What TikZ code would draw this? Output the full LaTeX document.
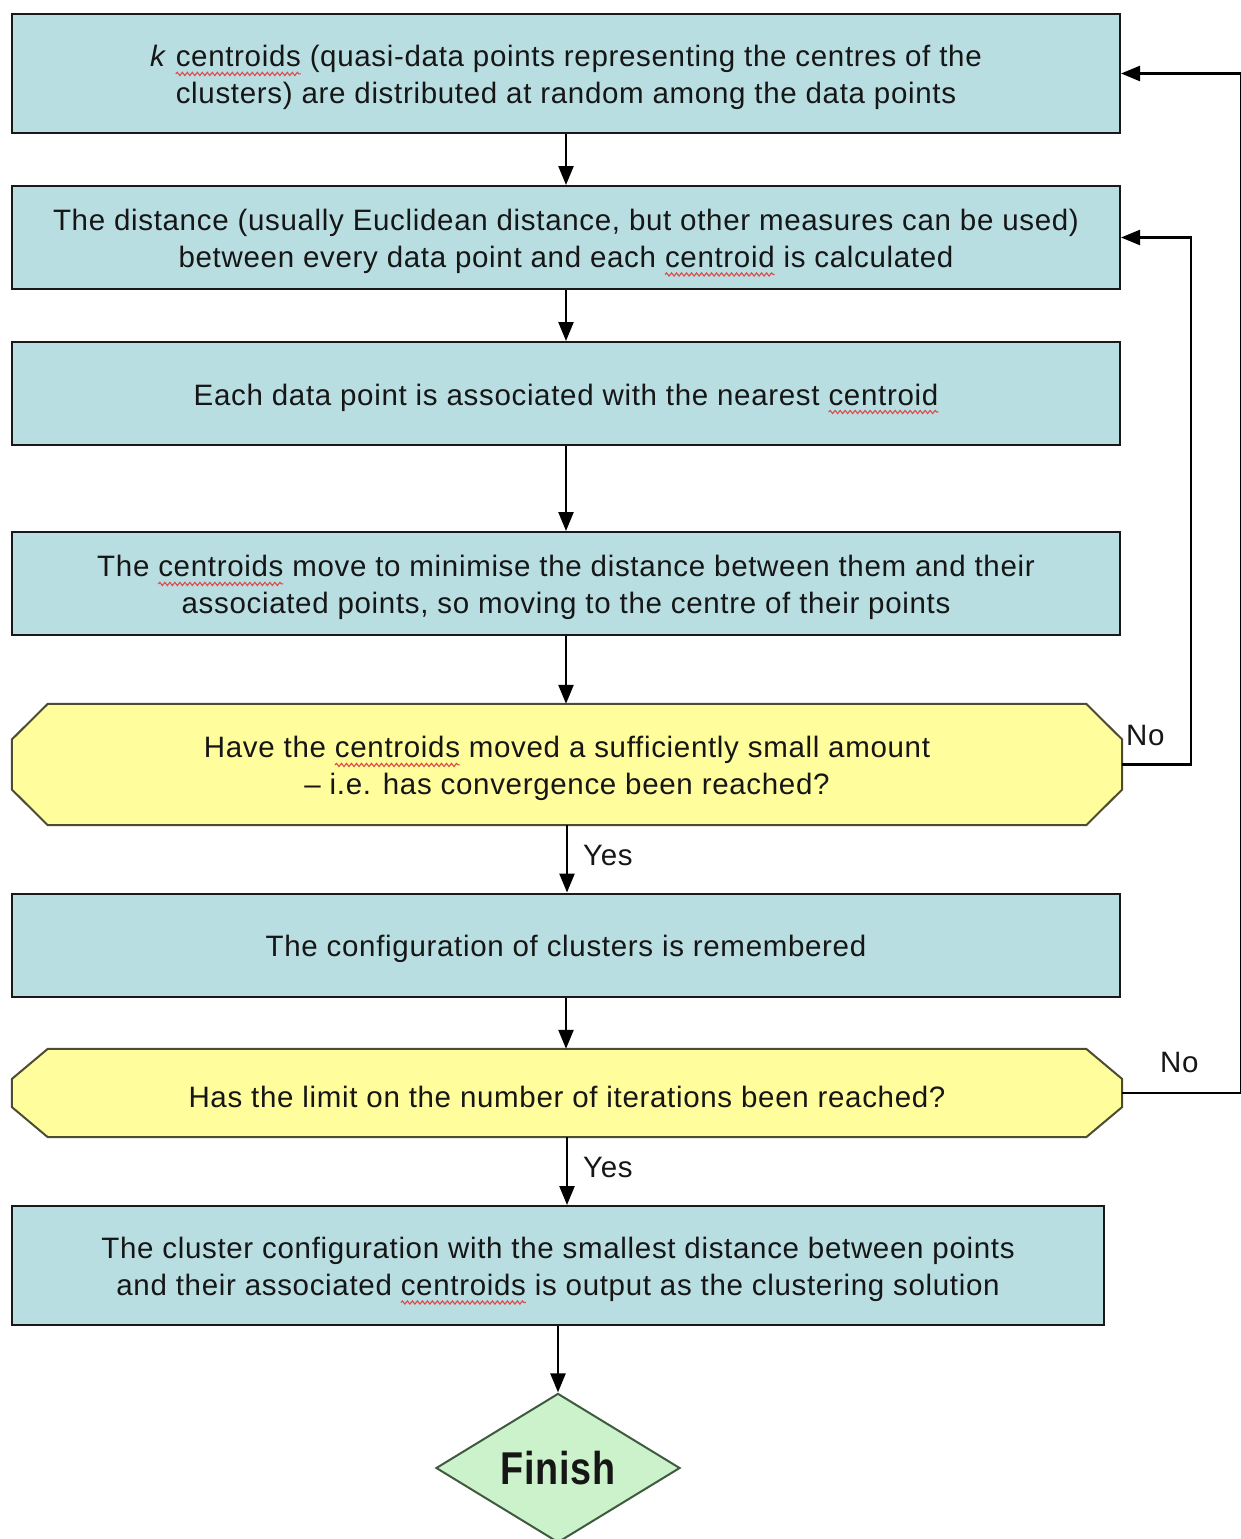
\documentclass[tikz,border=0pt]{standalone}
\usepackage{fontspec}
\setmainfont{Liberation Sans}[LetterSpace=2.3]
\usetikzlibrary{arrows.meta,calc,backgrounds,shapes.geometric,decorations.pathmorphing}
\definecolor{boxblue}{HTML}{B8DEE2}
\definecolor{decyellow}{HTML}{FFFD9C}
\definecolor{fingreen}{HTML}{CBF2CB}
\definecolor{decborder}{HTML}{4C4C32}
\definecolor{finborder}{HTML}{3F5A3F}
\definecolor{txt}{HTML}{161616}
\definecolor{spellred}{HTML}{E04848}
\newsavebox\swbox
\newcommand\spellwave[1]{\sbox\swbox{#1}\mbox{\rlap{\raisebox{-7pt}{\tikz[x=1pt,y=1pt]{\path (0,0);
  \draw[overlay,spellred,line width=1.1pt,decorate,decoration={snake,amplitude=1.6pt,segment length=5pt}] (0,0) -- (\wd\swbox,0);}}}\usebox\swbox}}
\newcommand\ts{\rule{0pt}{30pt}}
\tikzset{
  x=1pt,y=-1pt,
  procbox/.style={draw=black!90,line width=2pt,fill=boxblue,minimum width=1108pt,minimum height=103pt,
    inner sep=0pt,align=center,font=\fontsize{29.5}{37}\selectfont,text=txt},
  decbox/.style={draw=none,minimum width=1110pt,inner sep=0pt,align=center,
    font=\fontsize{29.5}{37}\selectfont,text=txt},
  decshape/.style={draw=decborder,line width=2pt,fill=decyellow,line join=miter},
  arr/.style={line width=2.4pt,draw=black,-{Triangle[length=19pt,width=15pt]}},
  lbl/.style={font=\fontsize{29.5}{37}\selectfont,text=txt,inner sep=0pt,anchor=west},
}
\begin{document}
\begin{tikzpicture}
\useasboundingbox (0,0) rectangle (1240,1539);
\node[procbox,minimum height=119pt] (b1) at (566,73.5)
  {\ts\textit{k} \spellwave{centroids} (quasi-data points representing the centres of the\\
   clusters) are distributed at random among the data points};
\node[procbox] (b2) at (566,237.5)
  {\ts The distance (usually Euclidean distance, but other measures can be used)\\
   between every data point and each \spellwave{centroid} is calculated};
\node[procbox] (b3) at (566,393.5)
  {\ts Each data point is associated with the nearest \spellwave{centroid}};
\node[procbox] (b4) at (566,583.5)
  {\ts The \spellwave{centroids} move to minimise the distance between them and their\\
   associated points, so moving to the centre of their points};
\node[decbox,minimum height=121pt] (d1) at (567,764.5)
  {\ts Have the \spellwave{centroids} moved a sufficiently small amount\\
   -- i.e. has convergence been reached?};
\node[procbox] (b6) at (566,945)
  {\ts The configuration of clusters is remembered};
\node[decbox,minimum height=88pt] (d2) at (567,1093)
  {\ts Has the limit on the number of iterations been reached?};
\node[procbox,minimum width=1092pt,minimum height=119pt] (b8) at (558,1265.5)
  {\ts The cluster configuration with the smallest distance between points\\
   and their associated \spellwave{centroids} is output as the clustering solution};
\node[diamond,draw=finborder,line width=2pt,fill=fingreen,minimum width=244pt,minimum height=142pt,
  inner sep=0pt,text=txt,font=\fontsize{46}{50}\selectfont\bfseries] (fin) at (558,1468)
  {\scalebox{0.82}[1]{Finish}};
\begin{scope}[on background layer]
  \draw[decshape] ($(d1.north west)+(36,0)$) -- ($(d1.north east)+(-36,0)$)
     -- ($(d1.east)+(0,-25)$) -- ($(d1.east)+(0,25)$) -- ($(d1.south east)+(-36,0)$)
     -- ($(d1.south west)+(36,0)$) -- ($(d1.west)+(0,25)$) -- ($(d1.west)+(0,-25)$) -- cycle;
  \draw[decshape] ($(d2.north west)+(36,0)$) -- ($(d2.north east)+(-36,0)$)
     -- ($(d2.east)+(0,-14)$) -- ($(d2.east)+(0,14)$) -- ($(d2.south east)+(-36,0)$)
     -- ($(d2.south west)+(36,0)$) -- ($(d2.west)+(0,14)$) -- ($(d2.west)+(0,-14)$) -- cycle;
\end{scope}
\coordinate (r1) at (1191,764.5);
\coordinate (r2) at (1241,1093);
\draw[arr] (b1) -- (b2);
\draw[arr] (b2) -- (b3);
\draw[arr] (b3) -- (b4);
\draw[arr] (b4.south) -- (b4.south |- d1.north);
\draw[arr] (d1.south) -- (d1.south |- b6.north);
\draw[arr] (b6.south) -- (b6.south |- d2.north);
\draw[arr] (d2.south) -- (d2.south |- b8.north);
\draw[arr] (b8.south) -- (fin.north);
\draw[arr] (d1.east) -- (r1) |- (b2.east);
\draw[arr] (d2.east) -- (r2) |- (b1.east);
\node[lbl] (yes1) at (583,855) {Yes};
\node[lbl] (yes2) at (583,1167) {Yes};
\node[lbl] (no1) at (1126,735) {No};
\node[lbl] (no2) at (1160,1062) {No};
\end{tikzpicture}
\end{document}
